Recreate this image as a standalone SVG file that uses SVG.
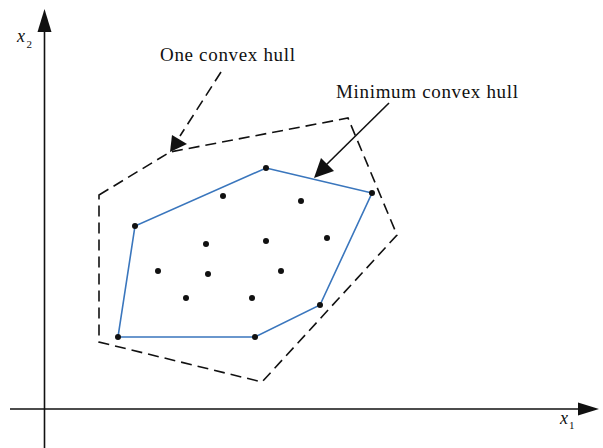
<svg xmlns="http://www.w3.org/2000/svg" width="603" height="448" viewBox="0 0 603 448">
<defs>
<style>
.axis{stroke:#111;stroke-width:1.6;fill:none}
.dash{stroke:#111;stroke-width:1.6;fill:none;stroke-dasharray:11 6}
.hull{stroke:#3a76bd;stroke-width:1.6;fill:none}
.pt{fill:#111}
.lbl{font-family:"Liberation Serif",serif;font-size:19px;fill:#111}
.ax{font-family:"Liberation Serif",serif;font-style:italic;font-size:18px;fill:#111}
.sub{font-family:"Liberation Serif",serif;font-size:11px;fill:#111}
.head{fill:#111}
</style>
</defs>
<g id="axes">
<line class="axis" x1="44.5" y1="30" x2="44.5" y2="448"/>
<polygon class="head" points="44.5,9 37.5,32 51.5,32"/>
<line class="axis" x1="10" y1="409" x2="580" y2="409"/>
<polygon class="head" points="599,409 578,402.5 578,415.5"/>
<text class="ax" x="17" y="42">x</text><text class="sub" x="26.5" y="48">2</text>
<text class="ax" x="560" y="424">x</text><text class="sub" x="569" y="429">1</text>
</g>
<g id="one-convex-hull">
<polygon class="dash" points="99,195 170,152 348,118 397,235 262,382 99,342"/>
</g>
<g id="minimum-convex-hull">
<polygon class="hull" points="266,168 372,193 320,305 255,337 118,337 135,226"/>
</g>
<g id="points">
<circle class="pt" cx="266" cy="168" r="3"/>
<circle class="pt" cx="372" cy="193" r="3"/>
<circle class="pt" cx="320" cy="305" r="3"/>
<circle class="pt" cx="255" cy="337" r="3"/>
<circle class="pt" cx="118" cy="337" r="3"/>
<circle class="pt" cx="135" cy="226" r="3"/>
<circle class="pt" cx="223" cy="196" r="3"/>
<circle class="pt" cx="301" cy="201" r="3"/>
<circle class="pt" cx="206" cy="244" r="3"/>
<circle class="pt" cx="266" cy="241" r="3"/>
<circle class="pt" cx="327" cy="238" r="3"/>
<circle class="pt" cx="158" cy="271" r="3"/>
<circle class="pt" cx="208" cy="274" r="3"/>
<circle class="pt" cx="281" cy="271" r="3"/>
<circle class="pt" cx="186" cy="298" r="3"/>
<circle class="pt" cx="252" cy="298" r="3"/>
</g>
<g id="connectors">
<line class="dash" x1="221" y1="72" x2="180" y2="136"/>
<polygon class="head" points="170,152 172,135 187,144"/>
<line class="axis" x1="389" y1="103" x2="325" y2="166"/>
<polygon class="head" points="314,178 321,158 334,171"/>
</g>
<g id="labels">
<text class="lbl" x="160" y="61" textLength="135" lengthAdjust="spacing">One convex hull</text>
<text class="lbl" x="336" y="98" textLength="182" lengthAdjust="spacing">Minimum convex hull</text>
</g>
</svg>
